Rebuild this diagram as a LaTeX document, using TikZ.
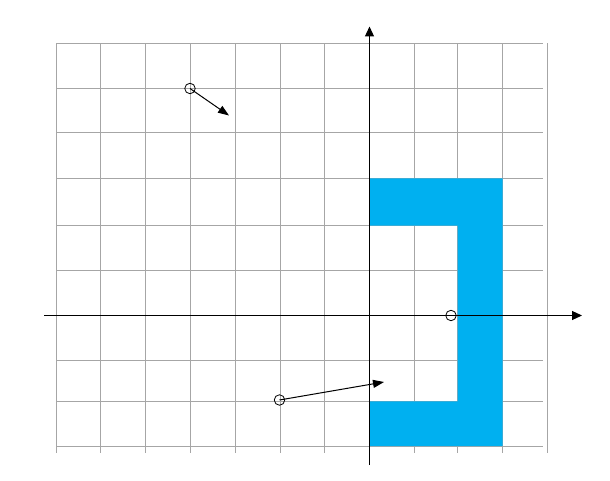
\documentclass[tikz,border=0pt]{standalone}
\usetikzlibrary{arrows.meta}
\definecolor{gridgray}{HTML}{A6A6A6}
\definecolor{shapeblue}{HTML}{00B0F0}
\tikzset{
  gridline/.style={draw=gridgray, line width=1pt},
  axis/.style={draw=black, line width=1.2pt, -{Triangle[length=10pt,width=9pt]}},
  vec/.style={draw=black, line width=1pt, -{Triangle[length=11pt,width=8pt]}},
  pt/.style={circle, draw=black, line width=0.8pt, minimum size=10.5pt, inner sep=0pt},
}
\begin{document}
\begin{tikzpicture}[x=1pt,y=-1pt]
\useasboundingbox (0,0) rectangle (610,481);
% grid
\foreach \gx in {56,100.5,145.5,190,235,280,324.5,369.5,414.5,457.5,502.7,547.5}
  \draw[gridline] (\gx,43.3) -- (\gx,453);
\foreach \gy in {43.3,88.3,133,178.3,225.7,270.3,315.5,360.3,401.3,446}
  \draw[gridline] (56,\gy) -- (543,\gy);
% shape
\fill[shapeblue] (369.5,178.3) -- (502.7,178.3) -- (502.7,446) -- (369.5,446) -- (369.5,401.3)
  -- (457.5,401.3) -- (457.5,225.7) -- (369.5,225.7) -- cycle;
% axes
\coordinate (xs) at (44,315.5);
\coordinate (xe) at (582,315.5);
\coordinate (ys) at (369.5,465);
\coordinate (ye) at (369.5,26.5);
\draw[axis] (xs) -- (xe);
\draw[axis] (ys) -- (ye);
% points and vectors
\node[pt] (c1) at (190,88.5) {};
\node[pt] (c2) at (279.5,400) {};
\node[pt] (c3) at (451,315.5) {};
\coordinate (t1) at (229,115.5);
\coordinate (t2) at (384,382);
\draw[vec] (c1.center) -- (t1);
\draw[vec] (c2.center) -- (t2);
\end{tikzpicture}
\end{document}
